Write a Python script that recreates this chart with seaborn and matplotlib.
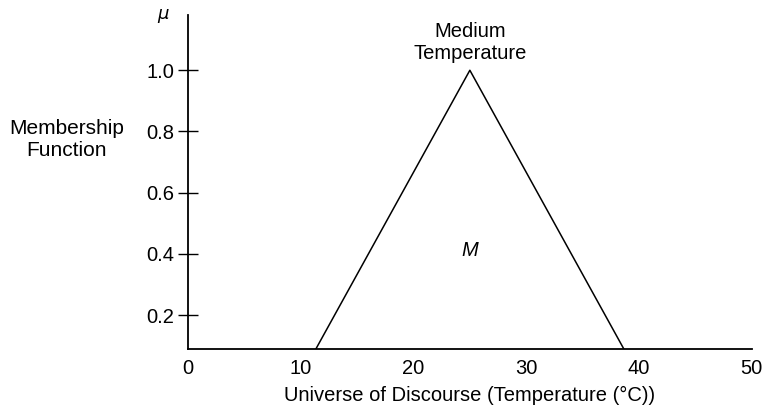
import numpy as np
import pandas as pd
import seaborn as sns
import matplotlib.pyplot as plt

# triangular membership function for "Medium Temperature"
temperature = [10, 25, 40]
membership = [0.0, 1.0, 0.0]
y_ticks = [0.2, 0.4, 0.6, 0.8, 1.0]
x_ticks = [0, 10, 20, 30, 40, 50]

sns.set_style("ticks")
plt.rcParams['font.family'] = ['Liberation Sans', 'DejaVu Sans']
plt.rcParams['text.color'] = 'black'
plt.rcParams['xtick.color'] = 'black'
plt.rcParams['ytick.color'] = 'black'
plt.rcParams['axes.labelcolor'] = 'black'

df = pd.DataFrame({'temperature': temperature, 'membership': membership})

fig = plt.figure(figsize=(7.64, 4.09), dpi=100)
ax = fig.add_axes([0.246, 0.147, 0.738, 0.816])
sns.lineplot(data=df, x='temperature', y='membership', color='black', linewidth=1.1, ax=ax)

ax.set_xlim(0, 50)
ax.set_ylim(0.09, 1.18)
ax.set_xticks(x_ticks)
ax.set_yticks(y_ticks)
ax.set_yticklabels(['%.1f' % v for v in y_ticks])
ax.tick_params(axis='x', length=0, pad=7, labelsize=14.5)
ax.tick_params(axis='y', direction='inout', length=14, width=1.0, pad=3, labelsize=14.5)
sns.despine(ax=ax)
for s in ['left', 'bottom']:
    ax.spines[s].set_linewidth(1.3)
    ax.spines[s].set_color('black')

ax.set_xlabel('Universe of Discourse (Temperature (°C))', fontsize=14.5, labelpad=6)
ax.set_ylabel('')

fig.text(67 / 764, 1 - 140 / 409, 'Membership\nFunction', ha='center', va='center',
         fontsize=15, linespacing=1.2)
fig.text(163 / 764, 1 - 16 / 409, r'$\mu$', ha='center', va='center', fontsize=13,
         family='DejaVu Serif')
ax.text(25, 1.025, 'Medium\nTemperature', ha='center', va='bottom', fontsize=14.5, linespacing=1.2)
ax.text(25, 0.41, 'M', ha='center', va='center', fontsize=14.5, style='italic')

fig.savefig('out.png', dpi=100)
